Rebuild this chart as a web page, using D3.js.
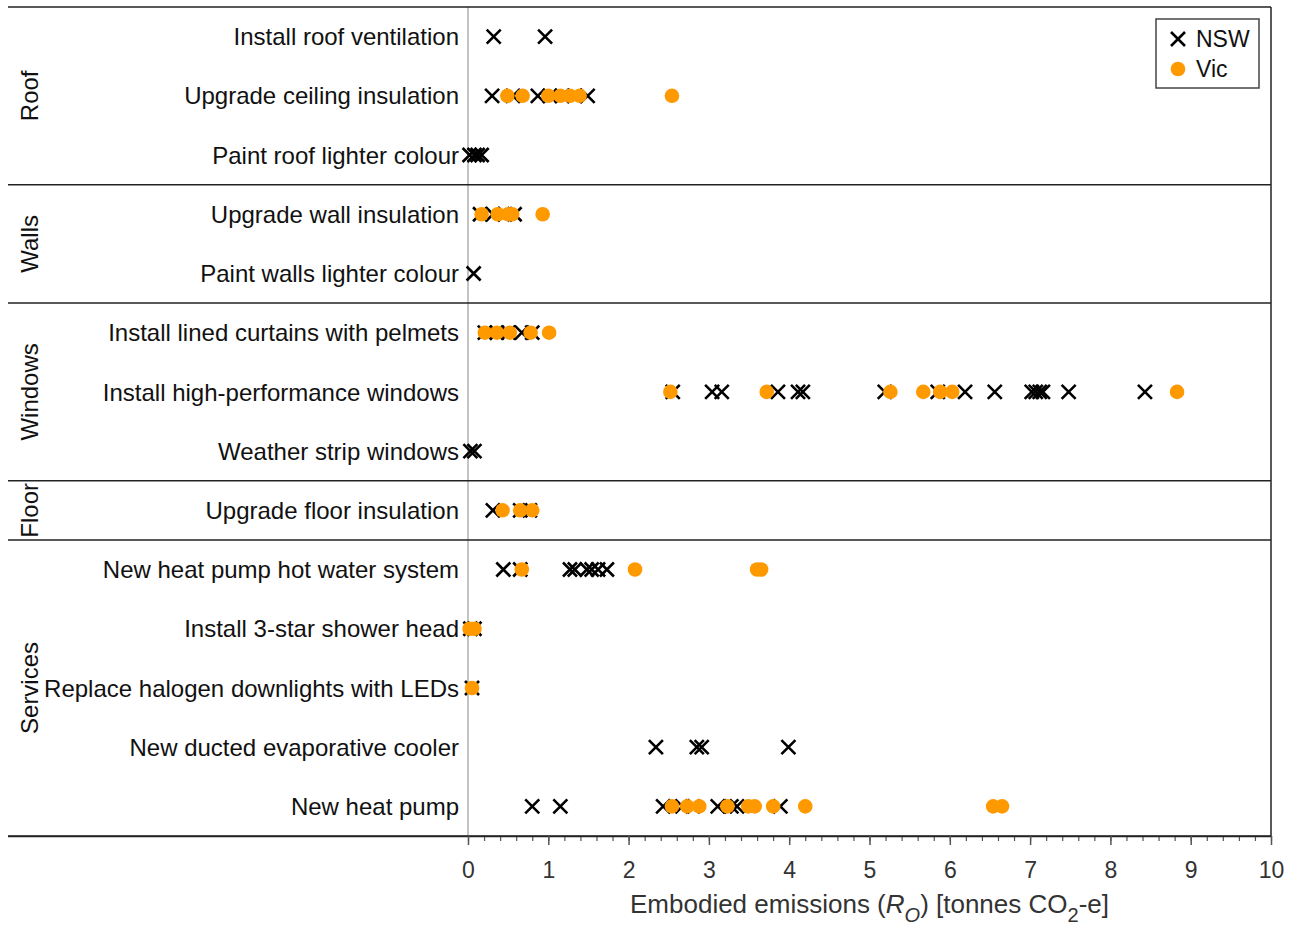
<!DOCTYPE html>
<html>
<head>
<meta charset="utf-8">
<script src="https://cdn.jsdelivr.net/npm/d3@7"></script>
<style>
  body { margin: 0; background: #fff; }
  text { font-family: "Liberation Sans", Arial, sans-serif; }
</style>
</head>
<body>
<div class="chart"></div>
<script>
const width = 1296
const height = 926

// measures, top to bottom
const rows = [
    "Install roof ventilation",
    "Upgrade ceiling insulation",
    "Paint roof lighter colour",
    "Upgrade wall insulation",
    "Paint walls lighter colour",
    "Install lined curtains with pelmets",
    "Install high-performance windows",
    "Weather strip windows",
    "Upgrade floor insulation",
    "New heat pump hot water system",
    "Install 3-star shower head",
    "Replace halogen downlights with LEDs",
    "New ducted evaporative cooler",
    "New heat pump"
]

const groups = ["Roof", "Walls", "Windows", "Floor", "Services"]
const groupFirst = ["Install roof ventilation", "Upgrade wall insulation", "Install lined curtains with pelmets", "Upgrade floor insulation", "New heat pump hot water system"]
const groupLast = ["Paint roof lighter colour", "Paint walls lighter colour", "Weather strip windows", "Upgrade floor insulation", "New heat pump"]

// embodied emissions per row (tonnes CO2-e)
const nsw = [
    [0.32, 0.96],
    [0.30, 0.56, 0.87, 1.02, 1.17, 1.33, 1.49],
    [0.02, 0.08, 0.12, 0.17],
    [0.15, 0.31, 0.46, 0.58],
    [0.07],
    [0.21, 0.36, 0.50, 0.67, 0.80],
    [2.55, 3.04, 3.16, 3.86, 4.11, 4.17, 5.19, 5.85, 6.19, 6.56, 7.02, 7.07, 7.12, 7.16, 7.48, 8.43],
    [0.03, 0.08],
    [0.31, 0.65, 0.77],
    [0.44, 0.65, 1.27, 1.33, 1.48, 1.54, 1.62, 1.73],
    [0.03, 0.08],
    [0.05],
    [2.34, 2.85, 2.91, 3.99],
    [0.80, 1.15, 2.43, 2.67, 2.80, 3.11, 3.28, 3.35, 3.89]
]

const vic = [
    [],
    [0.49, 0.68, 1.00, 1.15, 1.27, 1.39, 2.54],
    [],
    [0.17, 0.37, 0.50, 0.55, 0.93],
    [],
    [0.21, 0.36, 0.52, 0.78, 1.01],
    [2.52, 3.72, 5.26, 5.67, 5.88, 6.03, 8.83],
    [],
    [0.43, 0.65, 0.80],
    [0.67, 2.08, 3.60, 3.65],
    [0.02, 0.08],
    [0.05],
    [],
    [2.54, 2.73, 2.88, 3.23, 3.49, 3.57, 3.80, 4.20, 6.54, 6.65]
]

const seriesNames = ["NSW", "Vic"]
const colors = { NSW: "#000000", Vic: "#ff9900" }

const plotLeft = 8
const plotRight = 1271
const plotTop = 7
const plotBottom = 836

const x = d3.scaleLinear().domain([0, 10]).range([468, plotRight])
const y = d3.scaleBand().domain(rows).range([plotTop, plotBottom])

const svg = d3.select(".chart")
    .append("svg")
    .attr("width", width)
    .attr("height", height)

// zero line
svg.append("line")
    .attr("x1", x(0)).attr("x2", x(0))
    .attr("y1", plotTop).attr("y2", plotBottom)
    .attr("stroke", "#b0b0b0")
    .attr("stroke-width", 1.5)

// frame: top, right, group separators
svg.append("line")
    .attr("x1", plotLeft).attr("x2", plotRight)
    .attr("y1", plotTop).attr("y2", plotTop)
    .attr("stroke", "#222").attr("stroke-width", 1.5)
svg.append("line")
    .attr("x1", plotRight).attr("x2", plotRight)
    .attr("y1", plotTop).attr("y2", plotBottom)
    .attr("stroke", "#222").attr("stroke-width", 1.5)

svg.selectAll("line.sep")
    .data(groupLast)
    .join("line")
    .attr("class", "sep")
    .attr("x1", plotLeft).attr("x2", plotRight)
    .attr("y1", d => y(d) + y.bandwidth())
    .attr("y2", d => y(d) + y.bandwidth())
    .attr("stroke", "#222")
    .attr("stroke-width", 1.5)

// group labels
svg.selectAll("text.group")
    .data(groups)
    .join("text")
    .attr("class", "group")
    .attr("transform", (d, i) => {
        const cy = (y(groupFirst[i]) + y(groupLast[i]) + y.bandwidth()) / 2
        return `translate(38, ${cy}) rotate(-90)`
    })
    .attr("text-anchor", "middle")
    .attr("font-size", 24)
    .attr("fill", "#111")
    .text(d => d)

// row labels
svg.selectAll("text.row")
    .data(rows)
    .join("text")
    .attr("class", "row")
    .attr("x", 459)
    .attr("y", d => y(d) + y.bandwidth() / 2)
    .attr("dy", "0.36em")
    .attr("text-anchor", "end")
    .attr("font-size", 24)
    .attr("fill", "#111")
    .text(d => d)

// axis
const axisG = svg.append("g")
    .attr("transform", `translate(0, ${plotBottom})`)

axisG.append("g")
    .call(d3.axisBottom(x).ticks(50).tickSize(5).tickFormat(""))
    .call(g => g.select(".domain").remove())
    .call(g => g.selectAll("line").attr("stroke", "#555").attr("stroke-width", 1.2))

axisG.append("g")
    .call(d3.axisBottom(x).ticks(10).tickSize(9).tickPadding(17))
    .call(g => g.select(".domain").attr("d", `M${plotLeft},0.5H${plotRight}`).attr("stroke", "#222").attr("stroke-width", 1.5))
    .call(g => g.selectAll(".tick line").attr("stroke", "#555").attr("stroke-width", 1.5))
    .call(g => g.selectAll(".tick text")
        .attr("font-size", 23)
        .attr("fill", "#333")
        .attr("font-family", "Liberation Sans, Arial, sans-serif"))

const xLabel = svg.append("text")
    .attr("x", (x(0) + x(10)) / 2)
    .attr("y", 913)
    .attr("text-anchor", "middle")
    .attr("font-size", 26)
    .attr("fill", "#333")
xLabel.append("tspan").text("Embodied emissions (")
xLabel.append("tspan").attr("font-style", "italic").text("R")
xLabel.append("tspan").attr("font-style", "italic").attr("font-size", 20).attr("dy", 9).text("O")
xLabel.append("tspan").attr("dy", -9).text(") [tonnes CO")
xLabel.append("tspan").attr("font-size", 20).attr("dy", 9).text("2")
xLabel.append("tspan").attr("dy", -9).text("-e]")

// points
const xHalf = 7
function crossPath(cx, cy) {
    return `M${cx - xHalf},${cy - xHalf}L${cx + xHalf},${cy + xHalf}M${cx - xHalf},${cy + xHalf}L${cx + xHalf},${cy - xHalf}`
}

const nswPts = rows.flatMap((r, i) => nsw[i].map(v => ({ row: r, value: v })))
const vicPts = rows.flatMap((r, i) => vic[i].map(v => ({ row: r, value: v })))

svg.append("g")
    .selectAll("path")
    .data(nswPts)
    .join("path")
    .attr("d", d => crossPath(x(d.value), y(d.row) + y.bandwidth() / 2))
    .attr("stroke", colors.NSW)
    .attr("stroke-width", 2.6)
    .attr("fill", "none")

svg.append("g")
    .selectAll("circle")
    .data(vicPts)
    .join("circle")
    .attr("cx", d => x(d.value))
    .attr("cy", d => y(d.row) + y.bandwidth() / 2)
    .attr("r", 7.3)
    .attr("fill", colors.Vic)

// legend
const legend = svg.append("g").attr("transform", "translate(1156, 19)")
legend.append("rect")
    .attr("width", 103).attr("height", 69)
    .attr("fill", "#fff")
    .attr("stroke", "#444")
    .attr("stroke-width", 1.5)

legend.append("path")
    .attr("d", crossPath(22, 20))
    .attr("stroke", colors.NSW)
    .attr("stroke-width", 2.6)
legend.append("circle")
    .attr("cx", 22).attr("cy", 50).attr("r", 7.3)
    .attr("fill", colors.Vic)

legend.selectAll("text")
    .data(seriesNames)
    .join("text")
    .attr("x", 40)
    .attr("y", (d, i) => 20 + i * 30)
    .attr("dy", "0.36em")
    .attr("font-size", 23)
    .attr("fill", "#111")
    .text(d => d)
</script>
</body>
</html>
